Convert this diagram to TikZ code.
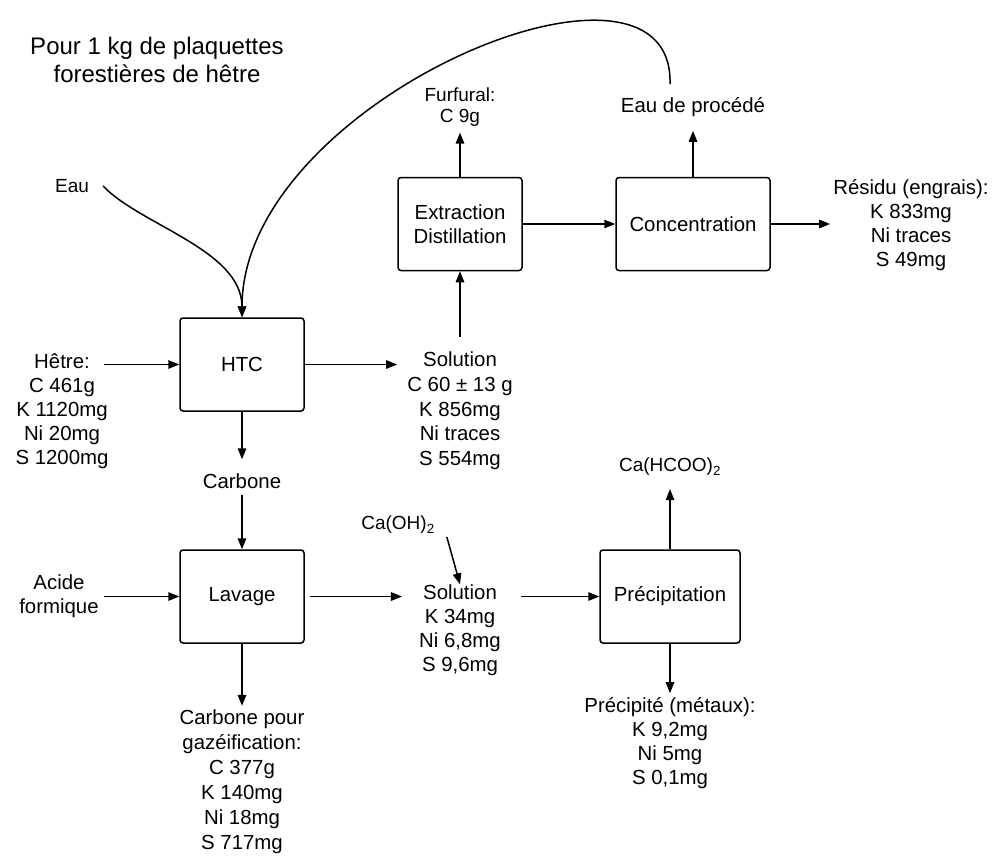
\documentclass[tikz,border=0pt]{standalone}
\usepackage{fontspec}
\setmainfont{Liberation Sans}
\usetikzlibrary{arrows.meta}
\newcommand\fsz[2]{\fontsize{#1}{#2}\selectfont}
\begin{document}
\begin{tikzpicture}[x=1pt,y=-1pt,
  txt/.style={font=\fsz{20.4}{24}, align=center, inner sep=0pt},
  small/.style={font=\fsz{19}{21}, align=center, inner sep=0pt},
  box/.style={draw, line width=1.5pt, rounded corners=3pt, font=\fsz{20.4}{24},
    align=center, inner sep=0pt, minimum width=124pt, minimum height=93pt},
  arr/.style={-{Triangle[length=11pt,width=8.5pt]}, line width=1.5pt}]
\useasboundingbox (0,0) rectangle (992,855);

% boxes
\node[box] (htc) at (242,364.5) {HTC};
\node[box] (extr) at (460,224) {Extraction\\Distillation};
\node[box, minimum width=154pt] (conc) at (693,224) {Concentration};
\node[box] (lav) at (242,596.5) {Lavage};
\node[box, minimum width=140pt] (prec) at (670,596.5) {Précipitation};

% texts
\node[txt, font=\fsz{24}{28}] (title) at (157,60) {Pour 1 kg de plaquettes\\forestières de hêtre};
\node[small] (eau) at (72,186) {Eau};
\node[small] (furf) at (460,107) {Furfural:\\C 9g};
\node[txt] (eaup) at (693,107) {Eau de procédé};
\node[txt] (resid) at (911,225) {Résidu (engrais):\\K 833mg\\Ni traces\\S 49mg};
\node[txt] (hetre) at (62,411) {Hêtre:\\C 461g\\K 1120mg\\Ni 20mg\\S 1200mg};
\node[txt, font=\fsz{20.4}{24.7}] (sol1) at (460,411) {Solution\\C 60 ± 13 g\\K 856mg\\Ni traces\\S 554mg};
\node[txt] (carb) at (242,481) {Carbone};
\node[txt] (acide) at (59,596) {Acide\\formique};
\node[small] (caoh) at (398,525) {Ca(OH)\textsubscript{2}};
\node[txt] (sol2) at (460,630) {Solution\\K 34mg\\Ni 6,8mg\\S 9,6mg};
\node[small] (cahcoo) at (670,467) {Ca(HCOO)\textsubscript{2}};
\node[txt] (precipite) at (670,743) {Précipité (métaux):\\K 9,2mg\\Ni 5mg\\S 0,1mg};
\node[txt, font=\fsz{20.4}{25}] (cgaz) at (242,782) {Carbone pour\\gazéification:\\C 377g\\K 140mg\\Ni 18mg\\S 717mg};

% connectors
\draw[arr] ([xshift=-5pt]hetre.east |- htc.west) -- (htc.west);
\draw[arr] (htc.east) -- ([xshift=-10pt]htc.east -| sol1.west);
\draw[arr] ([yshift=15pt]sol1.north) -- (extr.south);
\draw[arr] (extr.north) -- ([yshift=-6pt]furf.south);
\draw[arr] (extr.east) -- (conc.west);
\draw[arr] (conc.north) -- ([yshift=-14pt]eaup.south);
\draw[arr] (conc.east) -- ([xshift=-3pt]conc.east -| resid.west);
\draw[arr] (htc.south) -- ([yshift=14pt]carb.north);
\draw[arr] ([yshift=-6pt]carb.south) -- (lav.north);
\draw[arr] ([xshift=5pt]acide.east |- lav.west) -- (lav.west);
\draw[arr] ([xshift=5pt]lav.east) -- ([xshift=-17pt]lav.east -| sol2.west);
\draw[arr] ([xshift=20pt]prec.west -| sol2.east) -- (prec.west);
\draw[arr] ([xshift=12pt,yshift=-3pt]caoh.south east) -- (sol2.north);
\draw[arr] (prec.north) -- ([yshift=-13pt]cahcoo.south);
\draw[arr] (prec.south) -- ([yshift=4pt]precipite.north);
\draw[arr] (lav.south) -- ([yshift=4pt]cgaz.north);
\draw[arr] ([xshift=14pt]eau.east) .. controls (140,225) and (242,250) .. (htc.north);
\draw[arr] ([xshift=-23pt,yshift=13pt]eaup.north) .. controls (675,-80) and (242,100) .. (htc.north);
\end{tikzpicture}
\end{document}
